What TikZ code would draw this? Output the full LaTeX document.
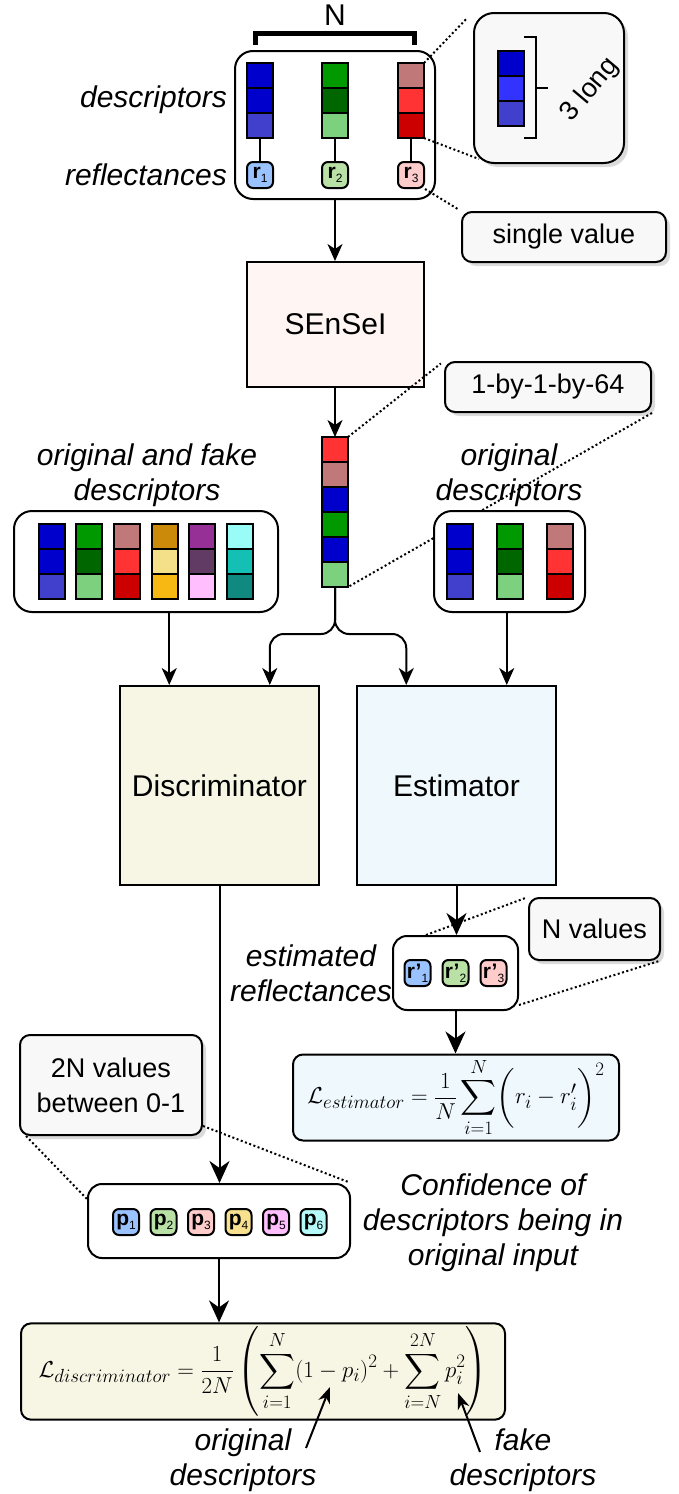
\documentclass[tikz,border=0pt]{standalone}
\usepackage{fix-cm}
\usepackage{amsmath}
\usepackage[no-math]{fontspec}
\setmainfont{Liberation Sans}
\usetikzlibrary{calc, arrows.meta, chains, positioning, shadows}
\DeclareMathSizes{23}{23}{19}{15}

\newcommand{\valtxt}[2]{\textbf{#1}\raisebox{-4pt}{\fontsize{12}{12}\selectfont #2}}

\begin{document}
\begin{tikzpicture}
  [x=1pt, y=-1pt,
    >={Stealth[length=17pt, width=15pt, inset=5pt]},
    node distance=25pt]

  \definecolor{blueA}{HTML}{0000CC}
  \definecolor{blueB}{HTML}{3333FF}
  \definecolor{blueC}{HTML}{4040CC}
  \definecolor{greenA}{HTML}{009900}
  \definecolor{greenB}{HTML}{006600}
  \definecolor{greenC}{HTML}{7DD17E}
  \definecolor{redA}{HTML}{C07878}
  \definecolor{redB}{HTML}{FF3333}
  \definecolor{redC}{HTML}{CC0000}
  \definecolor{goldA}{HTML}{CC8A0A}
  \definecolor{goldB}{HTML}{F5E08A}
  \definecolor{goldC}{HTML}{F7B814}
  \definecolor{violA}{HTML}{963096}
  \definecolor{violB}{HTML}{613B63}
  \definecolor{violC}{HTML}{FFBFFF}
  \definecolor{tealA}{HTML}{99FCF7}
  \definecolor{tealB}{HTML}{14BFB3}
  \definecolor{tealC}{HTML}{108A80}
  \definecolor{valblue}{HTML}{99C2FF}
  \definecolor{valgreen}{HTML}{B9E0A5}
  \definecolor{valred}{HTML}{FFCCCC}
  \definecolor{valgold}{HTML}{F7E08E}
  \definecolor{valpink}{HTML}{FFBFFF}
  \definecolor{valcyan}{HTML}{B5FAF8}
  \definecolor{senseifill}{HTML}{FFF5F3}
  \definecolor{discfill}{HTML}{F7F6E4}
  \definecolor{estfill}{HTML}{EEF8FD}
  \definecolor{notefill}{HTML}{F8F8F8}

  \tikzset{
    cell/.style={on grid, on chain,
      rectangle,
      draw=black, line width=2pt,
      minimum width=26pt, minimum height=25pt,
      inner sep=0pt, outer sep=0pt,
    },
    group/.style={
      rectangle, rounded corners=18pt,
      draw=black, line width=2pt, fill=white,
    },
    net/.style={
      rectangle,
      draw=black, line width=2pt,
      font=\fontsize{30}{36}\selectfont,
    },
    val/.style={
      rectangle, rounded corners=6pt,
      draw=black, line width=2pt,
      minimum width=26pt, minimum height=26pt, inner sep=0pt,
      font=\fontsize{21}{21}\selectfont,
    },
    note/.style={
      rectangle, rounded corners=10pt,
      draw=black, line width=2pt, fill=notefill,
      drop shadow={shadow xshift=4pt, shadow yshift=-4pt, fill=black!28},
      align=center, font=\fontsize{27}{35}\selectfont,
    },
    loss/.style={
      rectangle, rounded corners=10pt,
      draw=black, line width=2pt,
      font=\fontsize{23}{28}\selectfont,
    },
    lbl/.style={inner sep=0pt, align=center, font=\fontsize{30}{35}\selectfont\itshape},
    flow/.style={->, draw, line width=2pt},
    bigflow/.style={flow, -{Stealth[length=22pt, width=20pt, inset=7pt]}},
    ptr/.style={draw, line width=2pt, -{Stealth[length=16pt, width=12pt, inset=5pt]}},
    stem/.style={draw, line width=2pt},
    zoomline/.style={draw, line width=2pt, dash pattern=on 2pt off 2.5pt},
  }

  \useasboundingbox (0,0) rectangle (678,1494);

  % input: descriptors and reflectances
  \node[group, minimum width=200pt, minimum height=148pt] (inbox) at (335,125) {};
  \begin{scope}[start chain=t1 going below]
    \node[cell, fill=blueA] at (260,75.5) {}; \node[cell, fill=blueA] {}; \node[cell, fill=blueC] {};
  \end{scope}
  \begin{scope}[start chain=t2 going below]
    \node[cell, fill=greenA] at (335,75.5) {}; \node[cell, fill=greenB] {}; \node[cell, fill=greenC] {};
  \end{scope}
  \begin{scope}[start chain=t3 going below]
    \node[cell, fill=redA] at (411,75.5) {}; \node[cell, fill=redB] {}; \node[cell, fill=redC] {};
  \end{scope}
  \node[val, fill=valblue] (r1) at (260,175) {\valtxt{r}{1}};
  \node[val, fill=valgreen] (r2) at (335,175) {\valtxt{r}{2}};
  \node[val, fill=valred] (r3) at (411,175) {\valtxt{r}{3}};
  \draw[stem] (t1-3) -- (r1);
  \draw[stem] (t2-3) -- (r2);
  \draw[stem] (t3-3) -- (r3);

  \node[font=\fontsize{30}{36}\selectfont] (nlbl) at (335,15) {N};
  \draw[line width=5pt] (255,45) |- (414,33) -- (414,45);
  \node[lbl, anchor=east] (desclbl) at (227,100) {descriptors};
  \node[lbl, anchor=east] (refllbl) at (227,175) {reflectances};

  % zoom on one descriptor
  \node[note, rounded corners=20pt, minimum width=150pt, minimum height=150pt] (longnote) at (549,88) {};
  \begin{scope}[start chain=s going below]
    \node[cell, fill=blueA] at (511,63.5) {}; \node[cell, fill=blueB] {}; \node[cell, fill=blueC] {};
  \end{scope}
  \draw[line width=2.5pt] (524,37) -| (536,138) -- (524,138);
  \draw[line width=2.5pt] (536,88) -- (548,88);
  \node[font=\fontsize{27}{32}\selectfont, rotate=50] (longlbl) at (590,90) {3 long};
  \draw[zoomline, shorten >=8pt] (t3-1.north east) -- (longnote.north west);
  \draw[zoomline] (t3-3.south east) -- ([shift={(6,-5)}]longnote.south west);

  \node[note, minimum width=204pt, minimum height=50pt] (single) at (564,237) {single value};
  \draw[zoomline, shorten >=3pt] (r3.south east) -- (single.north west);

  % SEnSeI
  \node[net, fill=senseifill, minimum width=177pt, minimum height=125pt] (sensei) at (335.5,324.5) {SEnSeI};
  \draw[flow] (inbox.south) -- (inbox.south |- sensei.north);

  \begin{scope}[start chain=v going below]
    \node[cell, fill=redB] at (335,449.5) {}; \node[cell, fill=redA] {}; \node[cell, fill=blueA] {};
    \node[cell, fill=greenA] {}; \node[cell, fill=blueA] {}; \node[cell, fill=greenC] {};
  \end{scope}
  \draw[flow] (sensei.south -| v-1.north) -- (v-1.north);

  \node[note, minimum width=206pt, minimum height=50pt] (dims) at (548,387) {1-by-1-by-64};
  \draw[zoomline, shorten >=4pt] (v-1.north east) -- (dims.north west);
  \draw[zoomline] (dims.south east) -- (v-6.south east);

  % original and fake descriptors
  \node[lbl] (fakelbl) at (147,475) {original and fake\\descriptors};
  \node[group, minimum width=264pt, minimum height=101pt] (fbox) at (146,561.5) {};
  \begin{scope}[start chain=f1 going below]
    \node[cell, fill=blueA] at (51.5,536.5) {}; \node[cell, fill=blueA] {}; \node[cell, fill=blueC] {};
  \end{scope}
  \begin{scope}[start chain=f2 going below]
    \node[cell, fill=greenA] at (89.2,536.5) {}; \node[cell, fill=greenB] {}; \node[cell, fill=greenC] {};
  \end{scope}
  \begin{scope}[start chain=f3 going below]
    \node[cell, fill=redA] at (127,536.5) {}; \node[cell, fill=redB] {}; \node[cell, fill=redC] {};
  \end{scope}
  \begin{scope}[start chain=f4 going below]
    \node[cell, fill=goldA] at (164.6,536.5) {}; \node[cell, fill=goldB] {}; \node[cell, fill=goldC] {};
  \end{scope}
  \begin{scope}[start chain=f5 going below]
    \node[cell, fill=violA] at (202.3,536.5) {}; \node[cell, fill=violB] {}; \node[cell, fill=violC] {};
  \end{scope}
  \begin{scope}[start chain=f6 going below]
    \node[cell, fill=tealA] at (240,536.5) {}; \node[cell, fill=tealB] {}; \node[cell, fill=tealC] {};
  \end{scope}

  % original descriptors
  \node[lbl] (origlbl) at (509,475) {original\\descriptors};
  \node[group, minimum width=151pt, minimum height=101pt] (obox) at (509.5,561.5) {};
  \begin{scope}[start chain=o1 going below]
    \node[cell, fill=blueA] at (459.5,536.5) {}; \node[cell, fill=blueA] {}; \node[cell, fill=blueC] {};
  \end{scope}
  \begin{scope}[start chain=o2 going below]
    \node[cell, fill=greenA] at (509.5,536.5) {}; \node[cell, fill=greenB] {}; \node[cell, fill=greenC] {};
  \end{scope}
  \begin{scope}[start chain=o3 going below]
    \node[cell, fill=redA] at (559.5,536.5) {}; \node[cell, fill=redB] {}; \node[cell, fill=redC] {};
  \end{scope}

  % networks
  \node[net, fill=discfill, minimum width=199pt, minimum height=199pt] (disc) at (219.5,785.5) {Discriminator};
  \node[net, fill=estfill, minimum width=199pt, minimum height=199pt] (est) at (456.5,785.5) {Estimator};
  \coordinate (dIn1) at ($(disc.north west)!0.25!(disc.north east)$);
  \coordinate (dIn2) at ($(disc.north west)!0.75!(disc.north east)$);
  \coordinate (eIn1) at ($(est.north west)!0.25!(est.north east)$);
  \coordinate (eIn2) at ($(est.north west)!0.75!(est.north east)$);
  \draw[flow] (fbox.south -| dIn1) -- (dIn1);
  \draw[flow, rounded corners=14pt] (v-6.south) |- ([yshift=51pt]dIn2) -- (dIn2);
  \draw[flow, rounded corners=14pt] (v-6.south) |- ([yshift=51pt]eIn1) -- (eIn1);
  \draw[flow] (obox.south -| eIn2) -- (eIn2);

  % estimator output
  \node[group, rounded corners=14pt, minimum width=125pt, minimum height=74pt] (rbox) at (455.5,973) {};
  \node[val, fill=valblue] (e1) at (417.5,973) {\valtxt{r'}{1}};
  \node[val, fill=valgreen] (e2) at (455.5,973) {\valtxt{r'}{2}};
  \node[val, fill=valred] (e3) at (493.5,973) {\valtxt{r'}{3}};
  \draw[bigflow] (est.south) -- (est.south |- rbox.north);
  \node[lbl] (estlbl) at (311,973) {estimated\\reflectances};
  \node[note, minimum width=131pt, minimum height=62pt] (nvals) at (594.5,929) {N values};
  \draw[zoomline, shorten >=3pt] ([xshift=34pt]rbox.north west) -- (nvals.north west);
  \draw[zoomline] ([yshift=6pt]rbox.south east) -- ([xshift=-2pt]nvals.south east);

  \node[loss, fill=estfill, minimum width=326pt, minimum height=75pt] (lest) at (456,1097.5)
    {$\displaystyle \mathcal{L}_{estimator} = \frac{1}{N}\sum_{i=1}^{N}\biggl(r_i - r'_i\biggr)^2$};
  \draw[bigflow] (rbox.south) -- (rbox.south |- lest.north);

  % discriminator output
  \node[group, rounded corners=14pt, minimum width=262pt, minimum height=74pt] (pbox) at (219,1221) {};
  \node[val, fill=valblue] (p1) at (126,1222) {\valtxt{p}{1}};
  \node[val, fill=valgreen] (p2) at (163.5,1222) {\valtxt{p}{2}};
  \node[val, fill=valred] (p3) at (201,1222) {\valtxt{p}{3}};
  \node[val, fill=valgold] (p4) at (238.5,1222) {\valtxt{p}{4}};
  \node[val, fill=valpink] (p5) at (276,1222) {\valtxt{p}{5}};
  \node[val, fill=valcyan] (p6) at (313.5,1222) {\valtxt{p}{6}};
  \draw[bigflow] (disc.south) -- (disc.south |- pbox.north);
  \node[note, minimum width=182pt, minimum height=100pt] (pnote) at (111,1085) {2N values\\between 0-1};
  \draw[zoomline] ([xshift=7pt]pnote.south west) -- ([yshift=-16pt]pbox.north west);
  \draw[zoomline, shorten >=3pt] ([yshift=10pt]pnote.south east) -- (pbox.north east);
  \node[lbl] (conflbl) at (493,1223) {Confidence of\\descriptors being in\\original input};

  \node[loss, fill=discfill, minimum width=484pt, minimum height=75pt] (ldisc) at (263,1371.5)
    {$\displaystyle \mathcal{L}_{discriminator} = \frac{1}{2N}\left(\sum_{i=1}^{N}(1-p_i)^2 + \sum_{i=N}^{2N}p_i^2\right)$};
  \draw[bigflow] (pbox.south) -- (pbox.south |- ldisc.north);

  \node[lbl] (origterm) at (243,1460) {original\\descriptors};
  \node[lbl] (faketerm) at (523,1460) {fake\\descriptors};
  \coordinate (origP) at (330,1387);
  \coordinate (fakeP) at (458,1393);
  \draw[ptr] ([shift={(63,-12)}]origterm.center) -- (origP);
  \draw[ptr] ([shift={(-43,-8)}]faketerm.center) -- (fakeP);
\end{tikzpicture}
\end{document}
